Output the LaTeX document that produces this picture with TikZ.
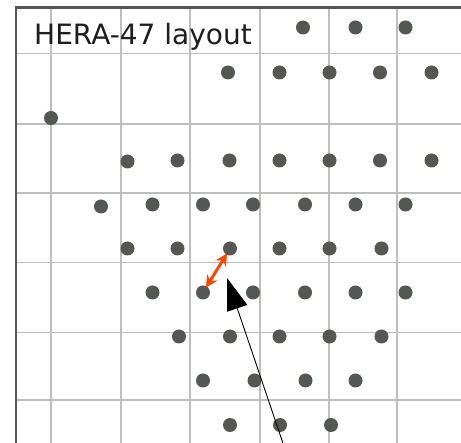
\documentclass[tikz,border=0pt]{standalone}
\usepackage{fontspec}
\setmainfont{DejaVu Sans}
\usetikzlibrary{arrows.meta}
\definecolor{dotc}{RGB}{85,87,83}
\definecolor{gridc}{RGB}{190,190,190}
\definecolor{spinec}{RGB}{85,85,85}
\definecolor{redarr}{RGB}{255,69,0}
\definecolor{txtc}{RGB}{30,30,30}
\tikzset{
  dot/.style={circle, fill=dotc, minimum size=14pt, inner sep=0pt, draw=none},
  gridline/.style={draw=gridc, line width=1.6pt},
  spine/.style={draw=spinec, line width=2.2pt},
  sep/.style={draw=redarr, line width=3pt, shorten <=-1.5pt, shorten >=-1.5pt, {Stealth[length=12pt,width=12pt]}-{Stealth[length=12pt,width=12pt]}},
  pointer/.style={draw=black, line width=0.9pt, -{Triangle[length=32pt,width=21pt]}},
  title/.style={anchor=base west, inner sep=0pt, text=txtc, font=\fontsize{28}{34}\selectfont}
}
\begin{document}
\begin{tikzpicture}[x=1pt,y=-1pt]
\useasboundingbox (0,0) rectangle (461,443);
\fill[white] (0,0) rectangle (461,443);
\clip (0,0) rectangle (461,443);
% grid
\foreach \gx in {51,121,190,260,329,397}
  \draw[gridline] (\gx,7.5) -- (\gx,450);
\foreach \gy in {53.5,124.3,192.8,262.7,332.7,400.3}
  \draw[gridline] (16,\gy) -- (470,\gy);
% spines
\draw[spine] (16,450) -- (16,7.5) -- (470,7.5);
% title
\node[title] (ttl) at (34,44.3) {HERA-47 layout};
% antennas
\foreach \x/\y/\n in {
  303/27.5/a1, 355.5/27.5/a2, 405.5/27.5/a3,
  228/72.5/b1, 279.5/72.5/b2, 329.5/72.5/b3, 380/72.5/b4, 431.5/72.5/b5,
  51/118/c1,
  127.5/161.5/e1, 177.5/160.5/e2, 229.5/160.5/e3, 279.5/160.5/e4, 329.5/160.5/e5, 380/160.5/e6, 431.5/160.5/e7,
  101/206.5/f1, 152.5/204.5/f2, 203/204.5/f3, 253/204.5/f4, 305/204.5/f5, 355.5/204.5/f6, 405.5/204.5/f7,
  127.5/248.5/g1, 177.5/248.5/g2, 230/248.5/g3, 279.5/248.5/g4, 329.5/248.5/g5, 381.5/248.5/g6,
  152.5/292.5/h1, 203/292.5/h2, 253/292.5/h3, 305/292.5/h4, 355.5/292.5/h5, 405.5/292.5/h6,
  179/336.5/i1, 230/336.5/i2, 279.5/336.5/i3, 329.5/336.5/i4, 381.5/336.5/i5,
  203/380.5/j1, 254.5/380.5/j2, 305.5/380.5/j3, 355.5/380.5/j4,
  230/425/k1, 280/425/k2, 331/425/k3}
  \node[dot] (\n) at (\x,\y) {};
% short baseline marker
\draw[sep] (h2) -- (g3);
% pointer arrow
\coordinate (ptail) at (289,461);
\coordinate (ptip) at (227,278);
\draw[pointer] (ptail) -- (ptip);
\end{tikzpicture}
\end{document}
